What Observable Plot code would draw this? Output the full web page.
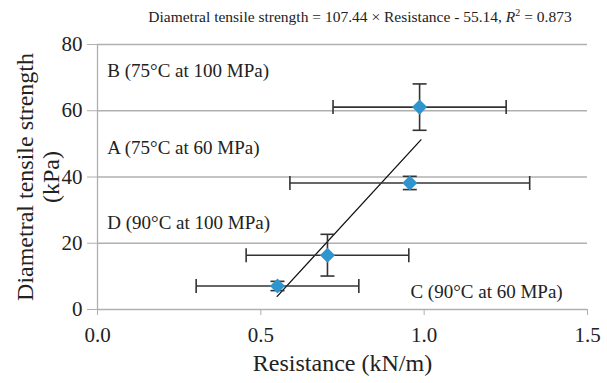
<!DOCTYPE html>
<html>
<head>
<meta charset="utf-8">
<script src="https://cdn.jsdelivr.net/npm/d3@7"></script>
<script src="https://cdn.jsdelivr.net/npm/@observablehq/plot@0.6"></script>
<style>
  html, body { margin: 0; padding: 0; background: #fff; }
  svg { display: block; }
</style>
</head>
<body>
<div id="chart"></div>
<script>
// ---- Data ----
const pointNames = ["B", "A", "D", "C"];
const resistance = [0.986, 0.956, 0.704, 0.551];        // kN/m
const resistanceErr = [0.265, 0.367, 0.249, 0.249];     // ± kN/m
const strength = [61.1, 38.2, 16.4, 7.1];               // kPa
const strengthErr = [7.0, 2.0, 6.3, 1.4];               // ± kPa

const labelTexts = ["B (75°C at 100 MPa)", "A (75°C at 60 MPa)", "D (90°C at 100 MPa)", "C (90°C at 60 MPa)"];
const labelX = [0.03, 0.03, 0.03, 0.958];
const labelY = [71.9, 48.9, 26.2, 5.2];

const xTicks = [0, 0.5, 1.0, 1.5];
const yTicks = [0, 20, 40, 60, 80];
const gridTicks = [20, 40, 60, 80];

// regression reported in the title
const slope = 107.44;
const intercept = -55.14;
const rSquared = 0.873;
const fitRange = [0.55, 0.99];

// ---- Tables built from the arrays ----
const points = pointNames.map((n, i) => ({
  name: n, x: resistance[i], ex: resistanceErr[i], y: strength[i], ey: strengthErr[i]
}));
const labels = labelTexts.map((t, i) => ({text: t, x: labelX[i], y: labelY[i]}));
const fit = fitRange.map(x => ({x, y: slope * x + intercept}));

const font = "'Liberation Serif', 'Times New Roman', serif";
const capSize = 7;
const vCap = {draw(ctx, size) { const r = Math.sqrt(size / Math.PI); ctx.moveTo(0, -r); ctx.lineTo(0, r); }};
const hCap = {draw(ctx, size) { const r = Math.sqrt(size / Math.PI); ctx.moveTo(-r, 0); ctx.lineTo(r, 0); }};
const errColor = "#333333";
const axisGray = "#b0b0b0";
const textColor = "#222";

const chart = Plot.plot({
  width: 607,
  height: 383,
  marginLeft: 97,
  marginRight: 20,
  marginTop: 44,
  marginBottom: 74,
  style: {fontFamily: font, fontSize: "19px", color: textColor, background: "#fff"},
  x: {domain: [0, 1.5]},
  y: {domain: [0, 80]},
  marks: [
    Plot.gridY(gridTicks, {stroke: axisGray, strokeOpacity: 1, strokeWidth: 1.3}),
    Plot.ruleY([0], {stroke: axisGray, strokeWidth: 1.3}),
    Plot.ruleX([0], {stroke: axisGray, strokeWidth: 1.3}),
    Plot.axisX({ticks: xTicks, tickFormat: d3.format(".1f"), tickSize: 6, tickPadding: 12, stroke: axisGray, strokeOpacity: 1, fill: textColor, fontSize: 21, label: null}),
    Plot.axisY({ticks: yTicks, tickSize: 10, tickPadding: 5, stroke: axisGray, strokeOpacity: 1, fill: textColor, fontSize: 21, label: null}),
    // regression line
    Plot.line(fit, {x: "x", y: "y", stroke: "#111", strokeWidth: 1.3}),
    // horizontal error bars
    Plot.link(points, {x1: d => d.x - d.ex, x2: d => d.x + d.ex, y1: "y", y2: "y", stroke: errColor, strokeWidth: 1.6}),
    Plot.dot(points, {x: d => d.x - d.ex, y: "y", symbol: vCap, r: capSize, stroke: errColor, strokeWidth: 1.6, fill: "none"}),
    Plot.dot(points, {x: d => d.x + d.ex, y: "y", symbol: vCap, r: capSize, stroke: errColor, strokeWidth: 1.6, fill: "none"}),
    // vertical error bars
    Plot.link(points, {x1: "x", x2: "x", y1: d => d.y - d.ey, y2: d => d.y + d.ey, stroke: errColor, strokeWidth: 1.6}),
    Plot.dot(points, {x: "x", y: d => d.y - d.ey, symbol: hCap, r: capSize, stroke: errColor, strokeWidth: 1.6, fill: "none"}),
    Plot.dot(points, {x: "x", y: d => d.y + d.ey, symbol: hCap, r: capSize, stroke: errColor, strokeWidth: 1.6, fill: "none"}),
    // markers
    Plot.dot(points, {x: "x", y: "y", symbol: "diamond2", r: 6.8, fill: "#2e95cf", stroke: "none"}),
    // condition labels
    Plot.text(labels, {x: "x", y: "y", text: "text", textAnchor: "start", fontSize: 19, fill: textColor}),
    // axis titles
    Plot.text(["Resistance (kN/m)"], {frameAnchor: "bottom", dy: 61, fontSize: 24, fill: textColor}),
    Plot.text(["Diametral tensile strength\n(kPa)"], {frameAnchor: "left", textAnchor: "middle", dx: -59.5, rotate: -90, fontSize: 24, lineHeight: 1.08, fill: textColor})
  ]
});

// title with italic R
const svg = d3.select(chart);
const title = svg.append("text")
  .attr("x", 360).attr("y", 22)
  .attr("text-anchor", "middle")
  .attr("font-family", font)
  .attr("font-size", 15.5)
  .attr("fill", textColor);
title.append("tspan").text(`Diametral tensile strength = ${slope} × Resistance - ${Math.abs(intercept)}, `);
title.append("tspan").attr("font-style", "italic").text("R");
title.append("tspan").attr("font-size", 10).attr("dy", -6).text("2");
title.append("tspan").attr("dy", 6).text(` = ${rSquared}`);

document.getElementById("chart").append(chart);
</script>
</body>
</html>
